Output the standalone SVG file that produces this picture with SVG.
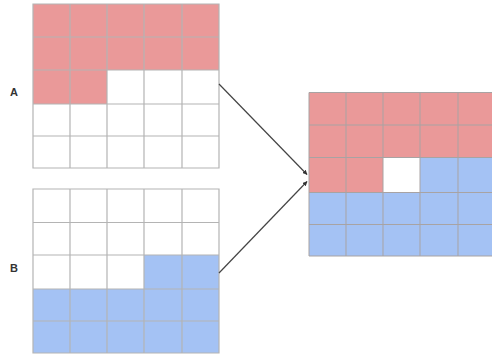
<svg xmlns="http://www.w3.org/2000/svg" width="492" height="358" viewBox="0 0 492 358">
<defs>
<style>
.r{fill:#ea9999}
.b{fill:#a4c2f4}
.w{fill:#ffffff}
.g{fill:none;stroke:#b4b4b4;stroke-width:1.2}
.gc{fill:none;stroke:#a8a3a3;stroke-width:1}
.lbl{font-family:"Liberation Sans",Arial,sans-serif;font-size:11px;fill:#333;font-weight:bold;text-anchor:middle}
.conn{stroke:#444;stroke-width:1.2;fill:none;marker-end:url(#ah)}
</style>
<marker id="ah" viewBox="0 0 10 10" refX="9" refY="5" markerWidth="4" markerHeight="4" orient="auto">
<path d="M0,0 L10,5 L0,10 z" fill="#333"/>
</marker>
</defs>
<rect width="492" height="358" fill="#ffffff"/>

<g id="gridA">
<rect class="r" x="33" y="4" width="186" height="66"/>
<rect class="r" x="33" y="70" width="74" height="34"/>
<path class="g" d="M33,4H219V168H33Z M70,4V168 M107,4V168 M144,4V168 M182,4V168 M33,37H219 M33,70H219 M33,104H219 M33,136H219"/>
</g>
<g id="labelA"><text class="lbl" x="14" y="96">A</text></g>

<g id="gridB">
<rect class="b" x="33" y="289" width="186" height="64"/>
<rect class="b" x="144" y="255" width="75" height="34"/>
<path class="g" d="M33,189H219V353H33Z M70,189V353 M107,189V353 M144,189V353 M182,189V353 M33,222.5H219 M33,255H219 M33,289H219 M33,321H219"/>
</g>
<g id="labelB"><text class="lbl" x="14" y="272">B</text></g>

<g id="result">
<rect class="r" x="309" y="92.5" width="186" height="65"/>
<rect class="r" x="309" y="157.5" width="74" height="35"/>
<rect class="b" x="420" y="157.5" width="75" height="35"/>
<rect class="b" x="309" y="192.5" width="186" height="63.5"/>
<path class="gc" d="M309,92.5H495V256H309Z M346,92.5V256 M383,92.5V256 M420,92.5V256 M458,92.5V256 M309,125H495 M309,157.5H495 M309,192.5H495 M309,224.5H495"/>
</g>

<g id="connectors">
<line class="conn" x1="219" y1="84" x2="307" y2="174.5"/>
<line class="conn" x1="219" y1="273" x2="307" y2="181.5"/>
</g>
</svg>
